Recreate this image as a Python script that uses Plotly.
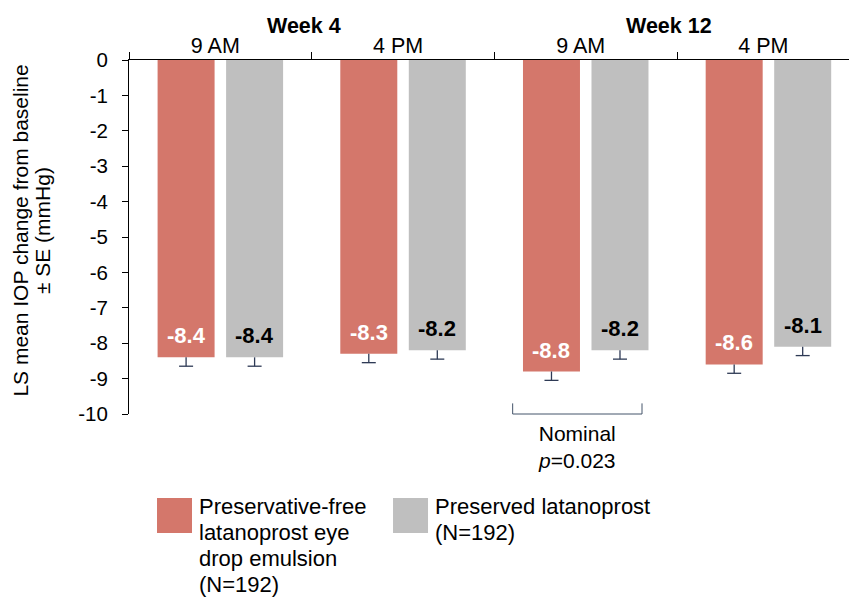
import plotly.graph_objects as go

# Study visits (week, time of day) and LS mean change from baseline
weeks = ["Week 4", "Week 4", "Week 12", "Week 12"]
times = ["9 AM", "4 PM", "9 AM", "4 PM"]
pf_values = [-8.4, -8.3, -8.8, -8.6]        # preservative-free emulsion
pres_values = [-8.4, -8.2, -8.2, -8.1]      # preserved latanoprost
pf_se = [0.25, 0.25, 0.25, 0.25]
pres_se = [0.25, 0.25, 0.25, 0.25]
y_ticks = [0, -1, -2, -3, -4, -5, -6, -7, -8, -9, -10]
y_ticktext = ["0", "-1", "-2", "-3", "-4", "-5", "-6", "-7", "-8", "-9", "-10"]

pf_lines = ["Preservative-free", "latanoprost eye", "drop emulsion", "(N=192)"]
pres_lines = ["Preserved latanoprost", "(N=192)"]
y_title_lines = ["LS mean IOP change from baseline", "± SE (mmHg)"]
p_note = "Nominal<br><i>p</i>=0.023"
p_visit = 2  # visit index that the p-value bracket refers to

RED = "#D4776B"
GREY = "#BFBFBF"
NAVY = "#2E3A55"
SLATE = "#44546A"
FONT = "Arial, Liberation Sans, sans-serif"

# bar geometry in category units
BAR_W = 0.312
BAR_GAP = 0.063
pf_off = -BAR_GAP / 2 - BAR_W
pres_off = BAR_GAP / 2

xs = list(range(len(times)))


def err_traces(offset, values, se):
    """Downward-only SE whiskers with a cap at the lower end."""
    centers = [i + offset + BAR_W / 2 for i in xs]
    lx, ly = [], []
    for c, v, s in zip(centers, values, se):
        lx += [c, c, None]
        ly += [v, v - s, None]
    stem = go.Scatter(x=lx, y=ly, mode="lines", line=dict(color=NAVY, width=1.3),
                      hoverinfo="skip", showlegend=False)
    cap = go.Scatter(x=centers, y=[v - s for v, s in zip(values, se)], mode="markers",
                     marker=dict(symbol="line-ew", size=10, line=dict(color=NAVY, width=1.3)),
                     hoverinfo="skip", showlegend=False)
    return [stem, cap]


fig = go.Figure()
fig.add_trace(go.Bar(x=xs, y=pf_values, width=BAR_W, offset=pf_off,
                     marker=dict(color=RED, line=dict(width=0)), showlegend=False))
fig.add_trace(go.Bar(x=xs, y=pres_values, width=BAR_W, offset=pres_off,
                     marker=dict(color=GREY, line=dict(width=0)), showlegend=False))
for t in err_traces(pf_off, pf_values, pf_se) + err_traces(pres_off, pres_values, pres_se):
    fig.add_trace(t)

annotations = []
# value labels near the bottom of each bar
for i, (a, b) in enumerate(zip(pf_values, pres_values)):
    annotations.append(dict(x=i + pf_off + BAR_W / 2, y=a, xref="x", yref="y",
                            text=f"<b>{a:.1f}</b>", showarrow=False, yanchor="bottom",
                            yshift=7, font=dict(size=22, color="white", family=FONT)))
    annotations.append(dict(x=i + pres_off + BAR_W / 2, y=b, xref="x", yref="y",
                            text=f"<b>{b:.1f}</b>", showarrow=False, yanchor="bottom",
                            yshift=7, font=dict(size=22, color="black", family=FONT)))

# week headers above the time-of-day labels
for w in dict.fromkeys(weeks):
    idx = [i for i, ww in enumerate(weeks) if ww == w]
    annotations.append(dict(x=sum(idx) / len(idx), y=1, xref="x", yref="paper",
                            text=f"<b>{w}</b>", showarrow=False, yanchor="bottom",
                            yshift=20, xshift=-8,
                            font=dict(size=21.5, color="black", family=FONT)))

# p-value note under the bracket
annotations.append(dict(x=p_visit - 0.046, y=0, xref="x", yref="paper", text=p_note,
                        showarrow=False, yanchor="top", yshift=-6, align="center",
                        font=dict(size=21, color="black", family=FONT)))

# y-axis title, one rotated line per annotation
for k, line in enumerate(y_title_lines):
    annotations.append(dict(x=-0.1505 + k * 0.0312, y=0.517, xref="paper", yref="paper",
                            text=line, textangle=-90, showarrow=False,
                            xanchor="center", yanchor="middle",
                            font=dict(size=21, color="black", family=FONT)))

shapes = [dict(type="path", xref="x", yref="paper",
               path=f"M {p_visit - 0.40} 0.03 L {p_visit - 0.40} 0.0 L {p_visit + 0.308} 0.0 "
                    f"L {p_visit + 0.308} 0.03",
               line=dict(color=SLATE, width=1))]

# legend swatches and labels
LINE_STEP = 0.0734
legend_items = [(RED, pf_lines, 0.0389), (GREY, pres_lines, 0.3667)]
for color, lines, x0 in legend_items:
    shapes.append(dict(type="rect", xref="paper", yref="paper",
                       x0=x0, x1=x0 + 0.0486, y0=-0.237, y1=-0.336,
                       fillcolor=color, line=dict(width=0)))
    for k, line in enumerate(lines):
        annotations.append(dict(x=x0 + 0.0555, y=-0.2627 - k * LINE_STEP,
                                xref="paper", yref="paper", text=line, showarrow=False,
                                xanchor="left", yanchor="middle", align="left",
                                font=dict(size=22, color="black", family=FONT)))

fig.update_layout(
    width=849, height=597,
    margin=dict(l=129, r=0, t=60, b=183),
    paper_bgcolor="white", plot_bgcolor="white",
    font=dict(family=FONT, color="black"),
    annotations=annotations, shapes=shapes,
)
fig.update_xaxes(
    side="top", range=[-0.5, 3.441], tickmode="array", tickvals=xs, ticktext=times,
    ticks="", showline=True, linecolor="black", linewidth=1, showgrid=False,
    zeroline=False, tickfont=dict(size=21.5, color="black"), ticklabelshift=-5,
    ticklabelstandoff=-3,
    minor=dict(tickmode="array", tickvals=[i - 0.5 for i in xs], ticks="outside",
               ticklen=7, tickcolor="black", showgrid=False),
)
fig.update_yaxes(
    range=[-10, 0], tickmode="array", tickvals=y_ticks, ticktext=y_ticktext,
    ticks="outside", ticklen=6, tickcolor="black", showline=True, linecolor="black",
    linewidth=1, showgrid=False, zeroline=False, ticklabelstandoff=10,
    tickfont=dict(size=20.5, color="black"),
)

fig.write_html("out.html")
